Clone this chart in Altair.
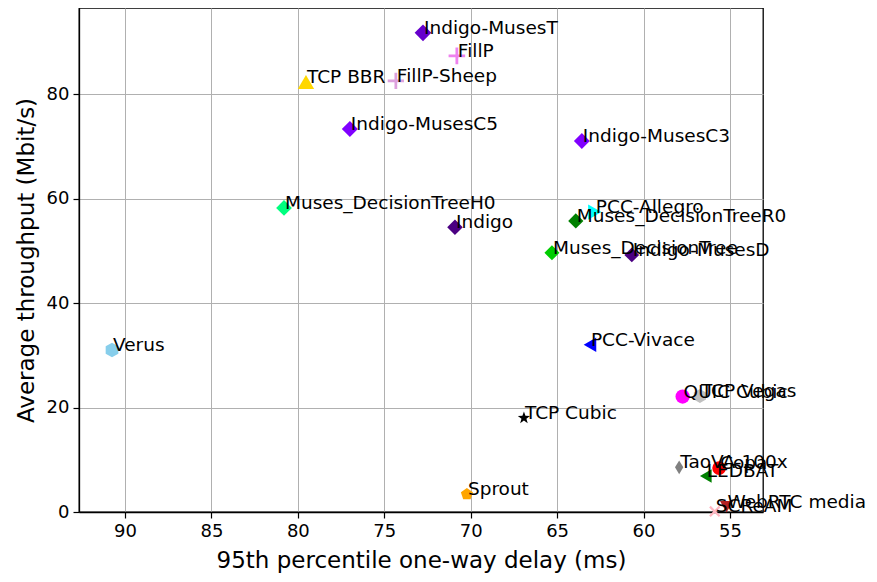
import math
import altair as alt
import pandas as pd

names = ["Indigo-MusesT", "FillP", "TCP BBR", "FillP-Sheep", "Indigo-MusesC5",
         "Indigo-MusesC3", "Muses_DecisionTreeH0", "Indigo", "PCC-Allegro",
         "Muses_DecisionTreeR0", "Muses_DecisionTree", "Indigo-MusesD", "Verus",
         "PCC-Vivace", "QUIC Cubic", "TCP Vegas", "TaoVA-100x", "Copa", "LEDBAT",
         "SCReAM", "WebRTC media", "TCP Cubic", "Sprout"]
delay = [72.76, 70.80, 79.53, 74.33, 76.99,
         63.57, 80.80, 70.91, 62.82,
         63.92, 65.30, 60.68, 90.75,
         63.10, 57.74, 56.74, 57.94, 55.63, 56.40,
         55.88, 55.20, 66.92, 70.22]
throughput = [91.7, 87.3, 82.3, 82.5, 73.3,
              71.0, 58.2, 54.5, 57.4,
              55.7, 49.6, 49.2, 31.0,
              32.0, 22.1, 22.2, 8.55, 8.4, 6.9,
              0.1, 1.0, 18.0, 3.4]

x_ticks = [55, 60, 65, 70, 75, 80, 85, 90]
y_ticks = [0, 20, 40, 60, 80]


def fmt(pts):
    return "M" + "L".join(f"{a:.3f},{b:.3f}" for a, b in pts) + "Z"


def polygon(n):
    return fmt([(math.sin(2 * math.pi * k / n), -math.cos(2 * math.pi * k / n)) for k in range(n)])


def star():
    pts = []
    for k in range(10):
        r = 1.0 if k % 2 == 0 else 0.4
        a = math.pi * k / 5
        pts.append((r * math.sin(a), -r * math.cos(a)))
    return fmt(pts)


PLUS = "M-0.17,-1H0.17V-0.17H1V0.17H0.17V1H-0.17V0.17H-1V-0.17H-0.17Z"
XMARK = ("M-0.85,-0.61L-0.61,-0.85L0,-0.24L0.61,-0.85L0.85,-0.61L0.24,0L0.85,0.61"
         "L0.61,0.85L0,0.24L-0.61,0.85L-0.85,0.61L-0.24,0Z")
THIN_D = "M0,-1L0.6,0L0,1L-0.6,0Z"
HEX = polygon(6)
PENT = polygon(5)
STAR = star()

colors = ["#6600cc", "#ee82ee", "#ffd700", "#dda0dd", "#8000ff",
          "#8000ff", "#00ff7f", "#4b0082", "#00ffff",
          "#008000", "#00cc00", "#4b0082", "#87ceeb",
          "#0000ff", "#ff00ff", "#c0c0c0", "#808080", "#ff0000", "#008000",
          "#ffb6c1", "#b22222", "#000000", "#ffa500"]
shapes = ["diamond", PLUS, "triangle-up", PLUS, "diamond",
          "diamond", "diamond", "diamond", "triangle-right",
          "diamond", "diamond", "diamond", HEX,
          "triangle-left", "circle", HEX, THIN_D, "circle", "triangle-left",
          XMARK, "triangle-down", STAR, PENT]
sizes = [280, 160, 200, 160, 280,
         280, 280, 280, 170,
         280, 280, 280, 170,
         170, 160, 170, 230, 160, 170,
         160, 170, 210, 170]

df = pd.DataFrame({"name": names, "delay": delay, "thr": throughput})

xs = alt.X("delay:Q",
           scale=alt.Scale(domain=[53.09, 92.66], reverse=True, nice=False, zero=False),
           axis=alt.Axis(values=x_ticks, title="95th percentile one-way delay (ms)", format="d"))
ys = alt.Y("thr:Q",
           scale=alt.Scale(domain=[0, 96.46], nice=False, zero=False),
           axis=alt.Axis(values=y_ticks, title="Average throughput (Mbit/s)", format="d"))

points = alt.Chart(df).mark_point(filled=True, opacity=1, strokeWidth=0).encode(
    x=xs, y=ys,
    color=alt.Color("name:N", scale=alt.Scale(domain=names, range=colors), legend=None),
    shape=alt.Shape("name:N", scale=alt.Scale(domain=names, range=shapes), legend=None),
    size=alt.Size("name:N", scale=alt.Scale(domain=names, range=sizes), legend=None),
)

labels = alt.Chart(df).mark_text(align="left", baseline="alphabetic", dx=1, dy=1,
                                 font="DejaVu Sans", fontSize=18.5, color="black").encode(
    x=xs, y=ys, text="name:N")

chart = alt.layer(points, labels).properties(
    width=684, height=504,
    autosize=alt.AutoSizeParams(type="none"),
    padding={"left": 71, "top": 0, "right": 106, "bottom": 62},
).configure_view(stroke="black", strokeWidth=1.3).configure_axis(
    labelFont="DejaVu Sans", titleFont="DejaVu Sans",
    labelFontSize=18, titleFontSize=23, titleFontWeight="normal",
    labelColor="black", titleColor="black",
    domainColor="black", domainWidth=1.3, tickColor="black", tickWidth=1.2, tickSize=6,
    gridColor="#b0b0b0", gridWidth=1, gridOpacity=1,
).configure_axisX(labelPadding=4, titlePadding=9).configure_axisY(labelPadding=4, titlePadding=8)

chart.save("out.html", embed_options={"renderer": "svg", "actions": False})
